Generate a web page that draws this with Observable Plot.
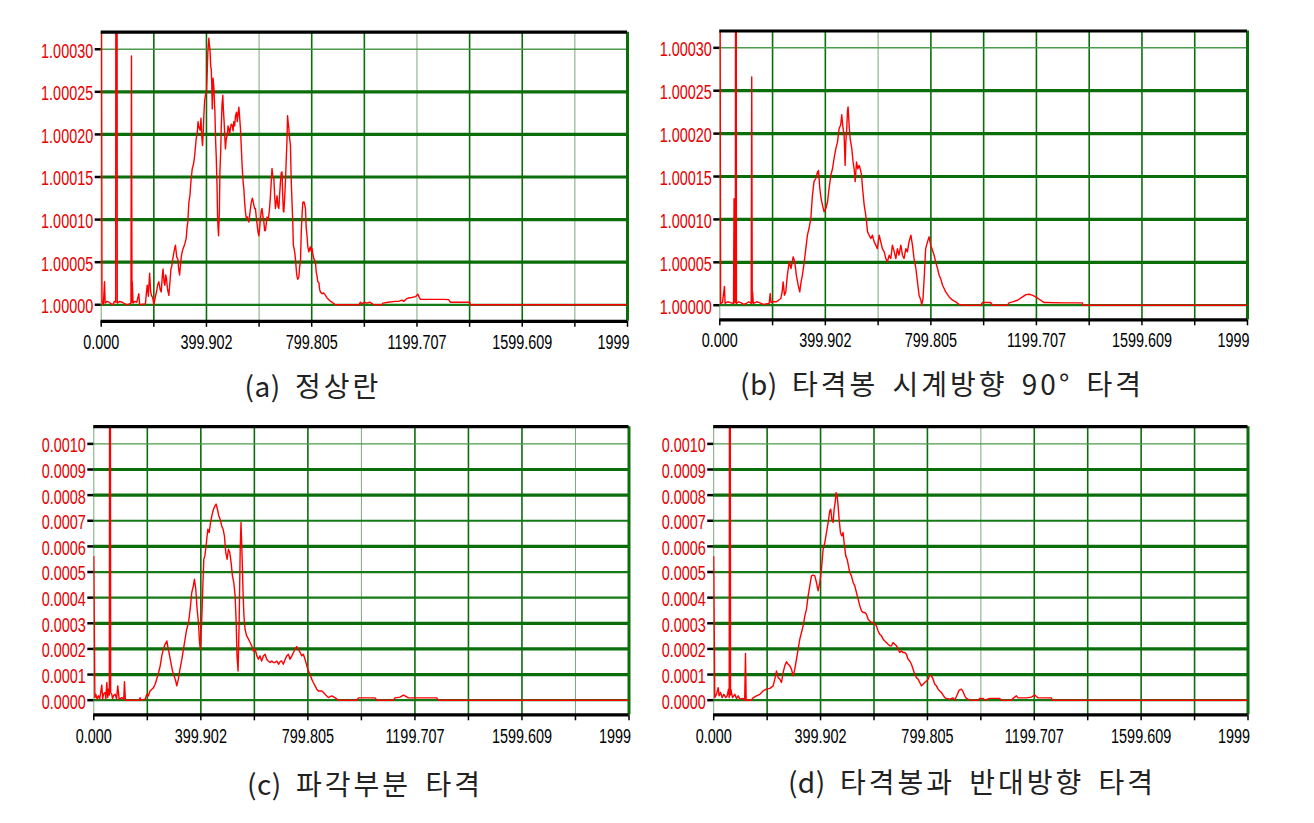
<!DOCTYPE html>
<html><head><meta charset="utf-8">
<script src="https://cdn.jsdelivr.net/npm/d3@7"></script>
<script src="https://cdn.jsdelivr.net/npm/@observablehq/plot@0.6"></script>
<style>
html,body{margin:0;padding:0;background:#fff;}
body{width:1314px;height:823px;position:relative;overflow:hidden;}
.panel{position:absolute;}
.cap{position:absolute;transform:translate(-50%,-50%);white-space:nowrap;font-family:"Noto Sans CJK KR","Noto Sans",sans-serif;font-size:28px;letter-spacing:3px;word-spacing:5px;color:#222;line-height:1;}
.cap .tag{letter-spacing:0.5px;}
</style></head><body>
<script>
// ---- axis values and labels ----
const xMax = 1999.51;
const xGrid = [0, 199.951, 399.902, 599.853, 799.805, 999.756, 1199.707, 1399.658, 1599.609, 1799.560, 1999.51];
const xLabelValues = [0, 399.902, 799.805, 1199.707, 1599.609];
const xLabelText = ["0.000", "399.902", "799.805", "1199.707", "1599.609"];
const xEndLabel = "1999";
const topYTicks = [1.00000, 1.00005, 1.00010, 1.00015, 1.00020, 1.00025, 1.00030];
const topYLabels = ["1.00000", "1.00005", "1.00010", "1.00015", "1.00020", "1.00025", "1.00030"];
const botYTicks = [0, 0.0001, 0.0002, 0.0003, 0.0004, 0.0005, 0.0006, 0.0007, 0.0008, 0.0009, 0.0010];
const botYLabels = ["0.0000", "0.0001", "0.0002", "0.0003", "0.0004", "0.0005", "0.0006", "0.0007", "0.0008", "0.0009", "0.0010"];
const captions = ["(a) 정상란", "(b) 타격봉 시계방향 90° 타격", "(c) 파각부분 타격", "(d) 타격봉과 반대방향 타격"];

// ---- series: [x, value above baseline]; (a),(b) in units of 1e-5 above 1.00000, (c),(d) in units of 1e-4 ----
const seriesA = [[0,60],[3,0.3],[8,0],[12.7,2.7],[15,0.2],[22,0.4],[30,0.3],[38,0.1],[45,0],[50,0.4],[55,0.3],[56,60],[60,60],[61,0.2],[70,0.4],[80,0.3],[90,0.1],[100,0],[113,0.2],[115,29.2],[117,0.3],[118,2.7],[121,0.2],[128,0.4],[135,0.3],[143,1.3],[146,0],[168,0.1],[172,1.5],[175,2.3],[179,1.0],[184,3.7],[188,1.5],[191,1.1],[196,0.8],[200,0],[205,0.8],[210,1.5],[215,2.4],[219,2.7],[224,1.8],[228,1.5],[232,3.3],[235,4.2],[239,2.6],[242,2.3],[245,3.5],[248,3.1],[252,1.8],[257,1.1],[262,3.0],[265,4.2],[268,4.5],[272,5.4],[277,6.3],[282,7.0],[287,5.6],[291,5.4],[295,4.0],[298,3.5],[302,5.0],[305,5.8],[310,6.5],[314,6.8],[318,7.2],[323,7.8],[326,9.0],[329,9.7],[333,12.0],[337,12.8],[341,14.5],[346,16.0],[350,16.4],[354,17.2],[358,18.5],[361,19.5],[365,20.2],[368,21.5],[370,21.0],[373,20.7],[376,20.5],[379,21.9],[382,19.8],[385,18.7],[388,20.5],[390,22.2],[393,24.0],[396,24.6],[400,25.0],[403,27.5],[405,29.5],[407,30.5],[409,31.3],[411,30.5],[413,30.1],[416,28.0],[418,27.7],[420,26.0],[422,23.0],[425,26.6],[428,25.5],[432,22.6],[435,19.0],[437,17.5],[440,14.0],[442,10.5],[444,9.0],[446,8.1],[449,11.0],[451,15.6],[454,18.0],[456,20.7],[459,23.5],[462,24.6],[464,23.0],[467,21.5],[470,19.5],[472,18.3],[475,19.5],[479,19.9],[482,21.0],[485,20.7],[488,20.0],[491,20.7],[494,21.2],[498,21.1],[501,20.4],[504,21.5],[507,21.0],[510,22.1],[514,22.6],[517,21.5],[520,22.4],[523,23.2],[526,22.0],[529,20.7],[533,18.0],[536,16.0],[539,14.5],[542,13.6],[545,12.0],[548,10.9],[551,10.2],[555,10.3],[558,10.0],[561,9.7],[564,10.5],[567,11.3],[570,12.0],[574,12.5],[577,12.2],[580,11.7],[583,11.3],[586,11.3],[590,10.0],[593,9.3],[596,8.5],[599,8.1],[602,9.0],[605,10.1],[608,11.0],[611,11.3],[614,10.5],[618,9.7],[621,8.7],[624,8.7],[627,9.5],[630,10.3],[634,10.0],[637,10.5],[640,11.5],[643,12.8],[646,14.4],[649,16.0],[652,15.0],[656,14.8],[659,12.8],[662,11.3],[665,12.0],[668,12.8],[672,11.5],[675,11.3],[678,13.0],[681,14.4],[684,15.5],[687,15.6],[690,12.5],[692,11.0],[694,10.9],[697,12.5],[700,14.5],[703,17.0],[706,19.5],[708,22.2],[711,21.2],[713,20.7],[716,19.5],[719,18.7],[722,14.5],[725,12.0],[728,9.5],[730,7.0],[733,6.6],[736,6.0],[739,5.0],[742,3.8],[744,3.3],[747,3.0],[751,3.3],[754,4.5],[757,5.0],[760,8.5],[763,10.5],[766,12.0],[770,12.1],[773,11.8],[776,11.3],[779,9.0],[782,8.1],[785,6.8],[789,6.2],[792,6.6],[795,6.8],[798,6.3],[801,6.6],[804,6.0],[808,5.4],[814,5.0],[817,3.8],[820,3.4],[823,2.7],[827,2.6],[830,1.8],[833,1.5],[839,1.3],[845,1.4],[852,1.1],[858,0.8],[865,0.6],[871,0.4],[877,0.3],[890,0],[979,0],[985,0.3],[991,0.1],[1000,0.3],[1010,0.2],[1020,0.3],[1036,0],[1067,0],[1070,0.2],[1090,0.3],[1118,0.4],[1130,0.4],[1143,0.55],[1150,0.4],[1160,0.7],[1168,0.8],[1180,0.85],[1194,0.95],[1203,1.25],[1208,0.9],[1213,0.63],[1260,0.63],[1300,0.63],[1320,0.6],[1327,0.3],[1360,0.3],[1400,0.3],[1402,0],[1999.51,0]];

const seriesB = [[0,60],[3,0.2],[10,0.3],[17.7,2.2],[20,0.2],[30,0.4],[40,0.3],[52,0.2],[54,12.4],[56,0.3],[59,0.3],[60,60],[62,60],[63,0.2],[72,0.4],[80,0.3],[90,0.1],[100,0.2],[110,0.4],[119,0.2],[121,26.6],[123,0.3],[124,1.55],[127,0.2],[140,0.4],[150,0.3],[165,0.1],[187,0.2],[191,1.36],[194,0.3],[200,0.4],[215,0.4],[231,0.78],[236,1.5],[240,2.72],[245,1.17],[250,1.55],[256,3.5],[263,5.05],[270,4.28],[278,5.64],[284,5.05],[290,3.5],[297,2.33],[303,1.55],[308,2.72],[313,3.5],[320,5.05],[326,6.6],[332,8.16],[338,8.94],[345,10.1],[351,12.8],[357,14.4],[364,14.8],[370,15.5],[374,15.7],[379,13.6],[384,12.4],[389,11.7],[395,10.9],[402,11.3],[408,12.0],[414,13.6],[421,15.2],[427,15.9],[433,17.1],[440,18.3],[446,19.0],[452,20.6],[458,21.0],[462,22.2],[467,20.6],[471,19.8],[475,16.3],[477,18.7],[481,20.6],[484,22.7],[486,23.1],[490,21.0],[494,19.4],[500,18.3],[505,16.7],[509,15.9],[513,14.4],[518,16.7],[523,15.9],[528,16.3],[532,15.9],[537,15.2],[541,13.6],[547,11.7],[553,10.5],[560,8.55],[566,8.16],[572,7.77],[578,8.16],[585,7.38],[591,7.0],[597,6.6],[604,8.16],[610,7.38],[616,6.6],[623,6.22],[629,5.44],[635,5.05],[642,5.83],[648,5.44],[654,7.0],[661,6.22],[667,5.44],[673,6.6],[679,5.83],[686,7.0],[692,5.83],[698,5.44],[705,6.6],[711,6.22],[717,7.38],[724,8.16],[730,7.0],[736,5.44],[743,4.28],[749,2.72],[755,1.17],[762,0.58],[765,0],[770,0.78],[775,3.5],[780,6.6],[787,7.38],[793,7.97],[799,7.0],[806,6.41],[812,5.83],[818,5.05],[825,4.28],[831,3.5],[837,3.1],[844,2.33],[850,1.94],[856,1.55],[869,0.97],[882,0.58],[894,0.39],[907,0.08],[932,0],[989,0],[995,0.31],[1027,0.31],[1033,0],[1090,0],[1096,0.27],[1109,0.39],[1128,0.58],[1147,0.97],[1160,1.24],[1172,1.28],[1184,1.17],[1197,0.97],[1216,0.58],[1229,0.31],[1311,0.27],[1374,0.27],[1376,0],[1999.51,0]];

const seriesC = [[0,5.6],[4,0.1],[7.5,0.23],[12,0.05],[17.4,0.17],[22,0.05],[29.9,0.59],[33,0.05],[36.1,0.23],[42.3,0.3],[45,0.05],[48.6,0.69],[52,0.1],[54.8,0.43],[58,0.2],[59,12],[62,12],[63,0.3],[67.2,0.23],[70,0.05],[73.5,0.17],[79.7,0.23],[85,0.05],[89.6,0.56],[94.6,0.04],[104.6,0.1],[112,0.05],[114.5,0.72],[118.3,0],[142,0],[170,0],[173,0.1],[176,0],[192,0.04],[198,0.23],[204,0.17],[210,0.36],[217,0.43],[223,0.49],[229,0.62],[235,0.82],[242,1.08],[248,1.34],[254,1.73],[260,1.99],[266,2.18],[273,2.31],[276,2.12],[281,1.86],[288,1.47],[294,1.14],[300,0.95],[306,0.75],[310,0.56],[316,0.82],[322,1.21],[329,1.6],[335,1.99],[341,2.38],[347,2.77],[354,3.03],[360,3.55],[366,4.2],[372,4.46],[376,4.72],[381,4.33],[386,3.55],[391,3.03],[395,2.25],[398,1.99],[403,3.03],[407,4.33],[411,5.5],[415,5.63],[418,5.89],[422,6.28],[426,6.67],[431,6.54],[436,6.93],[441,7.19],[447,7.45],[453,7.58],[457,7.65],[462,7.45],[467,7.19],[472,7.06],[478,6.8],[483,6.67],[488,6.41],[493,5.76],[498,5.5],[503,5.89],[508,5.76],[513,5.37],[518,4.85],[523,4.59],[528,4.07],[532,3.03],[535,1.73],[539,1.14],[543,3.03],[547,5.89],[550,6.93],[554,5.63],[558,4.07],[561,3.29],[565,2.77],[571,2.51],[578,2.38],[584,2.25],[590,2.12],[596,1.92],[603,1.99],[609,1.73],[615,1.6],[621,1.73],[627,1.53],[634,1.73],[640,1.79],[646,1.6],[652,1.53],[659,1.47],[665,1.53],[671,1.47],[677,1.47],[684,1.53],[690,1.4],[696,1.5],[702,1.53],[708,1.4],[715,1.6],[721,1.73],[727,1.79],[733,1.6],[740,1.73],[746,1.86],[752,1.99],[758,2.09],[764,1.99],[771,1.86],[777,1.73],[783,1.79],[789,1.6],[796,1.34],[802,1.14],[808,1.01],[814,0.82],[820,0.69],[827,0.56],[833,0.43],[839,0.36],[852,0.36],[858,0.3],[864,0.23],[876,0.1],[889,0.17],[901,0.1],[914,0],[982,0],[989,0.09],[1051,0.09],[1057,0],[1119,0],[1125,0.09],[1144,0.12],[1157,0.2],[1163,0.17],[1175,0.09],[1281,0.09],[1287,0],[1999.51,0]];

const seriesD = [[0,5.6],[4,0.1],[10.5,0.23],[16.7,0.49],[20.5,0.17],[25.4,0.3],[31.7,0.1],[37.9,0.23],[45.4,0.1],[50.4,0.17],[55.4,0.43],[58,0.1],[59,12],[62,12],[63,0.2],[64.1,0.43],[70.3,0.1],[79.1,0.23],[85.3,0.07],[91.5,0.17],[97.8,0.04],[110,0.07],[116,0],[119,1.82],[121.5,0],[141,0],[147,0.09],[160,0.17],[172.6,0.23],[185,0.36],[197.5,0.43],[210,0.46],[222.5,0.56],[228.7,0.82],[235,1.14],[241,0.88],[247.4,0.82],[253.6,0.69],[259.8,1.08],[266,1.34],[272.3,1.5],[278.6,1.4],[284.8,1.34],[291,1.21],[297.3,0.95],[303.5,1.21],[309.8,1.6],[316,1.99],[322.2,2.38],[328.5,2.64],[334.7,2.9],[341,3.29],[347.2,3.55],[353.4,4.07],[359.6,4.46],[365.9,4.85],[372,4.88],[378.3,4.85],[384.6,4.59],[390.8,4.27],[397,4.59],[403.3,5.11],[409.5,5.89],[415.8,6.15],[422,6.54],[428.2,6.93],[434.4,7.39],[438.2,7.45],[442,7.06],[446.9,6.93],[450.7,7.45],[454.4,7.71],[458.2,8.1],[462,7.97],[465.6,7.58],[469.4,7.06],[474.4,6.54],[479.3,6.41],[484.3,6.54],[488,6.15],[494.3,5.63],[499.3,5.5],[504.3,5.24],[509.3,4.98],[515.5,4.85],[521.8,4.59],[528,4.46],[534.2,4.2],[540.5,3.94],[546.7,3.68],[553,3.49],[559.2,3.42],[565.4,3.42],[571.7,3.35],[578,3.16],[584,3.09],[590.3,3.03],[596.6,3.03],[602.8,2.96],[609,2.9],[615.3,2.7],[621.5,2.57],[627.7,2.51],[634,2.38],[640.2,2.31],[646.4,2.25],[652.7,2.18],[659,2.12],[665,2.12],[671.4,2.25],[677.7,2.18],[684,2.12],[690.2,1.99],[696.3,1.86],[702.6,1.92],[708.8,1.86],[715,1.86],[721.3,1.79],[727.5,1.6],[733.8,1.53],[740,1.4],[746.2,1.21],[752.5,1.01],[758.7,0.88],[765,0.82],[771.1,0.69],[777.4,0.56],[783.6,0.62],[789.9,0.69],[796.1,0.75],[802.3,0.82],[808.6,0.98],[814.8,0.95],[821,0.82],[827.3,0.62],[833.5,0.56],[839.7,0.43],[846,0.36],[852.2,0.3],[858.4,0.2],[864.7,0.1],[870.9,0.07],[883.4,0.04],[895.8,0.09],[902,0],[910.8,0.2],[918.3,0.39],[927,0.43],[933.2,0.33],[939.5,0.17],[945.7,0.07],[952,0.04],[964.4,0],[989.3,0],[995.6,0.07],[1008,0.07],[1014.3,0],[1033,0.07],[1070.4,0.07],[1076.7,0],[1114,0],[1120.3,0.07],[1132.8,0.17],[1139,0.09],[1170,0.09],[1189,0.12],[1201,0.2],[1214,0.09],[1264,0.09],[1267.4,0],[1999.51,0]];

// ---- rendering ----
const NUM_FONT = '"Liberation Sans",Arial,sans-serif';
const NUM_SIZE = 20;
const SQUEEZE = 0.72; // narrow numeric font like the original
const GREEN = "#0a6e0a";
const GREEN_LIGHT = "#79a979";

function panel(cfg) {
  const data = cfg.series.map(([x, v]) => ({x, y: cfg.base + v * cfg.unit}));
  const lo = cfg.base + cfg.ylo * cfg.unit, hi = cfg.base + cfg.yhi * cfg.unit;
  const gx = xGrid.slice(0, 10);
  const gxThick = gx.filter((d, i) => !cfg.thinX.includes(i));
  const gxThin = gx.filter((d, i) => cfg.thinX.includes(i));
  const yThick = cfg.yTicks.filter((d, i) => cfg.thickY.includes(i));
  const yMed = cfg.yTicks.filter((d, i) => !cfg.thickY.includes(i) && i !== cfg.yTicks.length - 1);
  const yTop = [cfg.yTicks[cfg.yTicks.length - 1]];
  const svg = Plot.plot({
    width: cfg.w, height: cfg.h,
    marginLeft: cfg.ml, marginRight: cfg.mr, marginTop: cfg.mt, marginBottom: cfg.mb,
    x: {domain: [0, xMax]},
    y: {domain: [lo, hi]},
    style: {background: "transparent"},
    marks: [
      Plot.ruleX(gxThick, {x: d => d, stroke: GREEN, strokeWidth: 1.6}),
      Plot.ruleX(gxThin, {x: d => d, stroke: GREEN_LIGHT, strokeWidth: 1}),
      Plot.ruleY(yThick, {y: d => d, stroke: GREEN, strokeWidth: 3.2}),
      Plot.ruleY(yMed, {y: d => d, stroke: "#157a15", strokeWidth: 2.2}),
      Plot.ruleY(yTop, {y: d => d, stroke: "#4e9a4e", strokeWidth: 1.4}),
      Plot.ruleX([xMax], {x: d => d, stroke: GREEN, strokeWidth: 3}),
      Plot.line(data, {x: "x", y: "y", stroke: "#ff0000", strokeWidth: 1.4, clip: true}),
      Plot.ruleY([lo], {y: d => d, stroke: "black", strokeWidth: 3.2}),
      Plot.ruleY([hi], {y: d => d, stroke: "black", strokeWidth: 3.2}),
      Plot.axisX({ticks: xGrid, tickSize: 6, tickFormat: () => "", label: null, stroke: "black", strokeWidth: 1.5}),
      Plot.axisY({ticks: cfg.yTicks, tickSize: 6, tickFormat: () => "", label: null, stroke: "black", strokeWidth: 2.5}),
      Plot.text(xLabelValues, {x: d => d, text: (d, i) => xLabelText[i], frameAnchor: "bottom", lineAnchor: "middle", dy: cfg.xdy, fill: "black", fontSize: NUM_SIZE, fontFamily: NUM_FONT}),
      Plot.text([xMax], {x: d => d, text: () => xEndLabel, frameAnchor: "bottom", lineAnchor: "middle", dy: cfg.xdy, dx: 2, textAnchor: "end", fill: "black", fontSize: NUM_SIZE, fontFamily: NUM_FONT}),
      Plot.text(cfg.yTicks, {y: d => d, text: (d, i) => cfg.yLabels[i], frameAnchor: "left", lineAnchor: "middle", dx: -8, dy: 2, textAnchor: "end", fill: "#e60000", fontSize: NUM_SIZE, fontFamily: NUM_FONT})
    ]
  });
  const div = document.createElement("div");
  div.className = "panel";
  div.style.left = cfg.left + "px";
  div.style.top = cfg.top + "px";
  div.appendChild(svg);
  document.body.appendChild(div);
  // condense the numeric labels horizontally (the original uses a narrow font)
  svg.querySelectorAll("text").forEach(t => {
    if (!t.textContent) return;
    const L = t.getComputedTextLength();
    if (L > 0) {
      t.setAttribute("textLength", (L * SQUEEZE).toFixed(1));
      t.setAttribute("lengthAdjust", "spacingAndGlyphs");
    }
  });
  const cap = document.createElement("div");
  cap.className = "cap";
  const sp = cfg.caption.indexOf(" ");
  const tag = document.createElement("span");
  tag.className = "tag";
  tag.textContent = cfg.caption.slice(0, sp);
  cap.appendChild(tag);
  cap.appendChild(document.createTextNode(cfg.caption.slice(sp)));
  cap.style.left = cfg.cx + "px";
  cap.style.top = cfg.cy + "px";
  document.body.appendChild(cap);
}

const topCommon = {base: 1, unit: 1e-5, yTicks: topYTicks, yLabels: topYLabels, thickY: [1, 2, 3, 4, 5]};
const botCommon = {base: 0, unit: 1e-4, yTicks: botYTicks, yLabels: botYLabels, thickY: [1, 2, 3, 6, 8, 9]};

panel({...topCommon, series: seriesA, caption: captions[0], left: 0, top: 0, w: 657, h: 360,
  ml: 100.7, mr: 30, mt: 31.7, mb: 39.2, ylo: -1.94, yhi: 32.0, thinX: [0, 3, 6, 9], xdy: 21, cx: 313, cy: 385});
panel({...topCommon, series: seriesB, caption: captions[1], left: 657, top: 0, w: 657, h: 360,
  ml: 62.3, mr: 67, mt: 30.5, mb: 40.7, ylo: -1.70, yhi: 31.96, thinX: [0, 3], xdy: 21, cx: 942, cy: 383});
panel({...botCommon, series: seriesC, caption: captions[2], left: 0, top: 400, w: 657, h: 360,
  ml: 93.3, mr: 28.5, mt: 26.2, mb: 45.7, ylo: -0.57, yhi: 10.67, thinX: [0, 5, 9], xdy: 22, cx: 365, cy: 783});
panel({...botCommon, series: seriesD, caption: captions[3], left: 657, top: 400, w: 657, h: 360,
  ml: 56.2, mr: 66.5, mt: 26.2, mb: 45.7, ylo: -0.57, yhi: 10.67, thinX: [0, 5], xdy: 22, cx: 972, cy: 781});
</script>
</body></html>
